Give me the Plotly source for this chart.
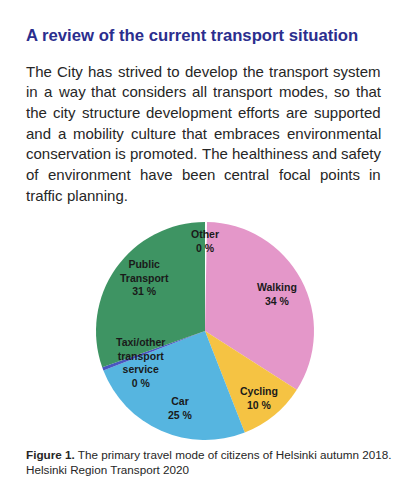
import plotly.graph_objects as go

# ---------------- data ----------------
categories = ["Other", "Walking", "Cycling", "Car", "Taxi/other transport service", "Public Transport"]
label_lines = ["Other", "Walking", "Cycling", "Car", "Taxi/other<br>transport<br>service", "Public<br>Transport"]
slice_values = [0.3, 34.1, 10.1, 25.3, 0.5, 30.7]
shown_pct = [0, 34, 10, 25, 0, 31]
colors = ["#FFFFFF", "#E497C9", "#F5C343", "#56B5E0", "#4A56C0", "#3E9463"]

title_text = "A review of the current transport situation"
body_lines = [
    "The City has strived to develop the transport system",
    "in a way that considers all transport modes, so that",
    "the city structure development efforts are supported",
    "and a mobility culture that embraces environmental",
    "conservation is promoted. The healthiness and safety",
    "of environment have been central focal points in",
    "traffic planning.",
]
caption_bold = "Figure 1."
caption_rest = " The primary travel mode of citizens of Helsinki autumn 2018."
caption_line2 = "Helsinki Region Transport 2020"

W, H = 400, 484

# Arial / Liberation Sans advance widths (per 1000 em)
ADV = {
    " ": 278, ",": 278, ".": 278, "T": 611, "C": 722,
    "a": 556, "b": 556, "c": 500, "d": 556, "e": 556, "f": 278, "g": 556,
    "h": 556, "i": 222, "j": 222, "k": 500, "l": 222, "m": 833, "n": 556,
    "o": 556, "p": 556, "q": 556, "r": 333, "s": 500, "t": 278, "u": 556,
    "v": 500, "w": 722, "x": 500, "y": 500, "z": 500,
}


def width(s, size):
    return sum(ADV.get(ch, 556) for ch in s) * size / 1000.0


def px(x):
    return x / W


def py(y):
    return 1 - y / H


fig = go.Figure(
    go.Pie(
        labels=categories,
        values=slice_values,
        marker=dict(colors=colors, line=dict(width=0)),
        sort=False,
        direction="clockwise",
        rotation=0,
        textinfo="none",
        hoverinfo="label+percent",
        domain=dict(x=[px(96), px(314)], y=[py(440), py(222)]),
        showlegend=False,
    )
)

ann = []
FONT = "Liberation Sans, Arial, sans-serif"

# title
ann.append(dict(text="<b>%s</b>" % title_text, x=px(25), y=py(36), xref="paper", yref="paper",
                xanchor="left", yanchor="middle", showarrow=False, borderpad=0,
                font=dict(family=FONT, size=16.7, color="#2B2E8E")))

# justified body text
BS = 15
left, right = 25, 380
y0, pitch = 71.2, 20.7
for i, line in enumerate(body_lines):
    words = line.split(" ")
    yy = y0 + i * pitch
    if i == len(body_lines) - 1:
        gap = width(" ", BS)
    else:
        total = sum(width(w, BS) for w in words)
        gap = (right - left - total) / (len(words) - 1)
    x = left
    for w in words:
        ann.append(dict(text=w, x=px(x), y=py(yy), xref="paper", yref="paper",
                        xanchor="left", yanchor="middle", showarrow=False, borderpad=0,
                        font=dict(family=FONT, size=BS, color="#262626")))
        x += width(w, BS) + gap

# caption
ann.append(dict(text="<b>%s</b>%s<br>%s" % (caption_bold, caption_rest, caption_line2),
                x=px(25), y=py(462), xref="paper", yref="paper", align="left",
                xanchor="left", yanchor="middle", showarrow=False, borderpad=0,
                font=dict(family=FONT, size=11.7, color="#262626")))

# pie labels
label_pos = [(205, 241), (276.7, 293.7), (259.3, 398.3), (180.7, 408.3), (140, 362.3), (144, 277.7)]
for name, pct, (lx, ly) in zip(label_lines, shown_pct, label_pos):
    ann.append(dict(text="<b>%s<br>%d %%</b>" % (name, pct), x=px(lx), y=py(ly),
                    xref="paper", yref="paper", xanchor="center", yanchor="middle",
                    showarrow=False, align="center",
                    font=dict(family=FONT, size=10.5, color="#1A1A1A")))

fig.update_layout(
    width=W, height=H,
    margin=dict(l=0, r=0, t=0, b=0),
    paper_bgcolor="white", plot_bgcolor="white",
    annotations=ann,
)

fig.write_html("out.html", config={"displayModeBar": False},
               post_script="document.body.style.margin='0';document.body.style.padding='0';")
